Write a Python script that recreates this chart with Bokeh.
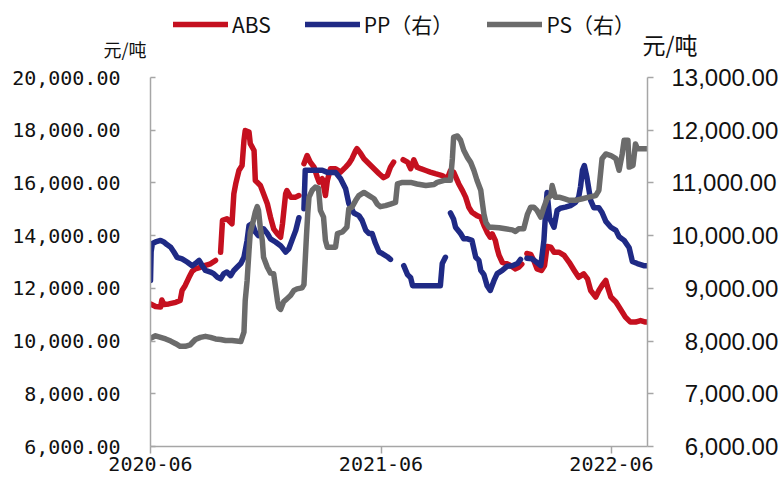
import numpy as np
import pandas as pd
from bokeh.plotting import figure
from bokeh.layouts import column
from bokeh.models import (Range1d, LinearAxis, FixedTicker, DatetimeTickFormatter,
                          NumeralTickFormatter, Legend, LegendItem)
from bokeh.embed import file_html
from bokeh.resources import INLINE

NAN = float("nan")

# Daily price series, sampled as day offsets from the start date (NaN = no quote)
START = "2020-06-01"
END_DAY = 787

ABS_DAYS = [
    0, 8, 16, 18, 21, 29, 40, 47, 50, 55,
    61, 66, 71, 79, 87, 95, 103, 107, 111, 114,
    121, 129, 132, 135, 140, 145, 148, 150, 156, 158,
    164, 166, 174, 179, 185, 190, 195, 201, 206, 209,
    214, 216, 222, 230, 235, 239, 243, 248, 253, 259,
    264, 267, 272, 277, 280, 285, 293, 301, 309, 314,
    319, 325, 327, 333, 338, 346, 354, 362, 369, 375,
    380, 385, 392, 400, 407, 412, 417, 422, 428, 436,
    443, 451, 462, 470, 475, 480, 488, 494, 499, 504,
    509, 517, 523, 528, 533, 538, 541, 546, 549, 552,
    557, 565, 570, 578, 583, 588, 592, 596, 602, 607,
    612, 619, 624, 628, 634, 639, 647, 655, 663, 671,
    678, 686, 692, 697, 705, 710, 715, 721, 723, 729,
    737, 744, 752, 760, 768, 776, 784, 787,
]
ABS_PRICE = [
    11410, 11310, 11290, 11560, 11390, 11410, 11470, 11540, 11920, 12110,
    12420, 12650, 12740, 12800, 12870, 12930, 13060, NAN, 13370, 14580,
    14640, 14450, 15590, 15970, 16470, 16660, 17610, 17990, 17930, 17490,
    17230, 16090, 15900, 15590, 15210, 14700, 14260, 14070, 13940, 14450,
    15590, 15710, 15460, 15460, 15520, NAN, 16730, 17040, 16790, 16600,
    16220, 16030, 16160, 15520, 16090, 16540, 16540, 16410, 16600, 16730,
    16920, 17230, 17300, 17110, 16920, 16730, 16540, 16350, 16200, 16280,
    16600, 16790, NAN, 16880, 16790, 16540, 16880, 16600, 16540, 16470,
    16410, 16350, 16280, 16160, 16470, 16410, 15970, 15710, 15460, 15080,
    14890, 14760, 14700, 14390, 14130, 13940, 14070, 13820, 13500, 13250,
    12990, 12930, 12870, 12740, 12800, 12920, NAN, 13320, 13290, 13060,
    12740, 12680, 12870, 13590, 13560, 13370, 13370, 13250, 12990, 12680,
    12420, 12550, 12360, 11920, 11670, 11920, 12110, 12300, 12110, 11670,
    11480, 11220, 10910, 10720, 10720, 10780, 10720, 10720,
]

PP_DAYS = [
    0, 1, 3, 8, 16, 21, 26, 32, 37, 42,
    50, 58, 66, 71, 77, 82, 87, 95, 100, 106,
    111, 116, 121, 127, 132, 137, 143, 148, 153, 156,
    161, 166, 171, 179, 185, 190, 198, 206, 214, 219,
    224, 230, 235, 239, 243, 245, 253, 264, 272, 280,
    293, 301, 309, 314, 322, 330, 335, 341, 346, 351,
    356, 362, 367, 375, 380, 390, 401, 407, 412, 415,
    428, 459, 462, 467, 471, 475, 480, 483, 491, 496,
    502, 509, 515, 520, 523, 528, 533, 538, 544, 549,
    557, 565, 573, 581, 586, 591, 596, 604, 612, 618,
    623, 626, 628, 632, 639, 644, 649, 657, 665, 673,
    678, 681, 684, 687, 691, 694, 697, 702, 710, 715,
    721, 729, 737, 742, 750, 758, 763, 771, 781, 787,
]
PP_PRICE = [
    9150, 9700, 9850, 9880, 9910, 9880, 9830, 9780, 9690, 9590,
    9560, 9500, 9430, 9470, 9530, 9430, 9340, 9310, 9280, 9210,
    9180, 9280, 9310, 9240, 9340, 9400, 9470, 9590, 9910, 10190,
    10230, 10070, 10000, 10130, 10040, 9940, 9880, 9810, 9690, 9750,
    9910, 10100, 10340, NAN, 10510, 11240, 11240, 11240, 11240, 11200,
    11200, 11080, 10890, 10610, 10430, 10380, 10290, 10100, 10040, 10040,
    9860, 9690, 9660, 9600, 9550, NAN, 9430, 9260, 9200, 9050,
    9050, 9050, 9470, 9590, NAN, 10430, 10310, 10160, 10040, 9940,
    9940, 9910, 9590, 9530, 9340, 9260, 9050, 8960, 9150, 9280,
    9340, 9420, 9430, 9470, 9550, NAN, 9570, 9560, 9490, 9430,
    9910, 10520, 10820, 10330, 10160, 10480, 10520, 10540, 10570, 10630,
    10730, 10930, 11240, 11330, 11110, 10890, 10670, 10530, 10530, 10440,
    10270, 10160, 10100, 9980, 9910, 9770, 9510, 9470, 9430, 9430,
]

PS_DAYS = [
    0, 8, 16, 24, 32, 40, 47, 55, 63, 71,
    79, 87, 95, 103, 111, 119, 129, 143, 148, 150,
    153, 156, 158, 161, 166, 169, 171, 174, 177, 179,
    185, 190, 195, 201, 203, 206, 211, 216, 222, 227,
    232, 240, 243, 247, 249, 251, 256, 261, 266, 269,
    274, 277, 280, 293, 296, 304, 311, 314, 319, 325,
    330, 338, 346, 354, 359, 364, 372, 380, 388, 391,
    399, 412, 422, 436, 449, 454, 465, 475, 478, 480,
    486, 491, 496, 502, 507, 512, 517, 523, 525, 528,
    531, 536, 541, 552, 562, 573, 578, 583, 591, 597,
    602, 607, 612, 618, 623, 628, 634, 636, 641, 647,
    655, 663, 673, 684, 694, 705, 710, 715, 721, 729,
    737, 742, 747, 750, 756, 758, 764, 768, 771, 776,
    787,
]
PS_PRICE = [
    8050, 8100, 8070, 8040, 8000, 7950, 7900, 7900, 7930, 8030,
    8070, 8090, 8070, 8040, 8030, 8010, 8010, 7990, 8170, 8770,
    9150, 9720, 10060, 10190, 10450, 10550, 10480, 10140, 9910, 9590,
    9400, 9290, 9280, 8770, 8640, 8600, 8750, 8800, 8870, 8960,
    8990, 9010, 9070, 10000, 10420, 10730, 10860, 10920, 10900, 10480,
    10350, 9910, 9780, 9780, 10040, 10070, 10160, 10510, 10540, 10670,
    10760, 10820, 10760, 10700, 10600, 10550, 10570, 10600, 10630, 10980,
    11010, 11010, 10980, 10950, 10970, 11010, 11050, 11050, 11460, 11870,
    11890, 11810, 11620, 11480, 11390, 11240, 11050, 10860, 10670, 10410,
    10250, 10160, 10160, 10150, 10130, 10110, 10080, 10130, 10130, 10410,
    10540, 10540, 10480, 10350, 10540, 10700, 10760, 10950, 10730, 10730,
    10700, 10670, 10670, 10700, 10730, 10760, 10860, 11460, 11550, 11520,
    11460, 11240, 11550, 11810, 11810, 11300, 11330, 11740, 11650, 11650,
    11650,
]

SERIES_NAMES = ["ABS", "PP（右）", "PS（右）"]
SERIES_COLORS = ["#C5101F", "#1F2A85", "#6B6B6B"]
UNIT = "元/吨"

LEFT_TICKS = [6000, 8000, 10000, 12000, 14000, 16000, 18000, 20000]
RIGHT_TICKS = [6000, 7000, 8000, 9000, 10000, 11000, 12000, 13000]
X_TICKS = ["2020-06-01", "2021-06-01", "2022-06-01"]

assert len(ABS_DAYS) == len(ABS_PRICE)
assert len(PP_DAYS) == len(PP_PRICE)
assert len(PS_DAYS) == len(PS_PRICE)

start = pd.Timestamp(START)


def to_dates(days):
    return (start + pd.to_timedelta(np.asarray(days), unit="D")).to_numpy()


def to_ms(ts):
    return pd.Timestamp(ts).value / 1e6


HEADER_H = 62          # strip holding the legend and the unit captions
BORDER_L, BORDER_R = 150, 133
FRAME_W, FRAME_H = 497, 369
AXIS_GREY = "#A6A6A6"
TEXT = "#111111"
MONO = "DejaVu Sans Mono"
CJK = "Noto Sans CJK SC"
line_kw = dict(line_width=5.5, line_join="round", line_cap="round")

# ---- main chart -------------------------------------------------------------
p = figure(
    frame_width=FRAME_W, frame_height=FRAME_H,
    x_axis_type="datetime",
    x_range=Range1d(start, start + pd.Timedelta(days=END_DAY)),
    y_range=Range1d(6000, 20000),
    output_backend="svg", toolbar_location=None,
    min_border_left=BORDER_L, min_border_right=BORDER_R,
    min_border_top=77 - HEADER_H, min_border_bottom=33,
    outline_line_color=None, background_fill_color="white",
    border_fill_color="white",
)
p.extra_y_ranges = {"right": Range1d(6000, 13000)}
p.xgrid.visible = False
p.ygrid.visible = False


def style_axis(ax, tick_in, tick_out):
    ax.major_tick_in = tick_in
    ax.major_tick_out = tick_out
    ax.minor_tick_line_color = None
    ax.axis_line_color = AXIS_GREY
    ax.axis_line_width = 1.5
    ax.major_tick_line_color = AXIS_GREY
    ax.major_tick_line_width = 1.5
    ax.major_label_text_color = TEXT


# left axis: ABS
ly = p.yaxis[0]
ly.ticker = FixedTicker(ticks=LEFT_TICKS)
ly.formatter = NumeralTickFormatter(format="0,0.00")
style_axis(ly, 5, 0)
ly.major_label_text_font = MONO
ly.major_label_text_font_size = "20px"
ly.major_label_standoff = 30

# right axis: PP and PS, labels padded with figure spaces so they line up on the right
longest = max(len(f"{t:,.2f}") for t in RIGHT_TICKS)
right_labels = {t: "\u2007" * (longest - len(f"{t:,.2f}")) + f"{t:,.2f}" for t in RIGHT_TICKS}
ry = LinearAxis(y_range_name="right", ticker=FixedTicker(ticks=RIGHT_TICKS),
                major_label_overrides=right_labels)
style_axis(ry, 0, 6)
ry.major_label_text_font = "Liberation Sans"
ry.major_label_text_font_size = "24px"
ry.major_label_standoff = 18
p.add_layout(ry, "right")

# bottom axis
bx = p.xaxis[0]
bx.ticker = FixedTicker(ticks=[to_ms(t) for t in X_TICKS])
fmt = "%Y-%m"
bx.formatter = DatetimeTickFormatter(
    milliseconds=fmt, seconds=fmt, minsec=fmt, minutes=fmt, hourmin=fmt,
    hours=fmt, days=fmt, months=fmt, years=fmt)
style_axis(bx, 0, 7)
bx.major_label_text_font = MONO
bx.major_label_text_font_size = "20px"
bx.major_label_standoff = 3

p.line(to_dates(ABS_DAYS), np.array(ABS_PRICE, dtype=float),
       line_color=SERIES_COLORS[0], **line_kw)
p.line(to_dates(PP_DAYS), np.array(PP_PRICE, dtype=float),
       line_color=SERIES_COLORS[1], y_range_name="right", **line_kw)
p.line(to_dates(PS_DAYS), np.array(PS_PRICE, dtype=float),
       line_color=SERIES_COLORS[2], y_range_name="right", **line_kw)

# ---- header strip: legend + unit captions -----------------------------------
# x in page pixels over the aligned frame, y in pixels from the top of the strip
head = figure(
    width=BORDER_L + FRAME_W + BORDER_R, height=HEADER_H,
    x_range=Range1d(BORDER_L, BORDER_L + FRAME_W), y_range=Range1d(HEADER_H, 0),
    x_axis_location=None,
    output_backend="svg", toolbar_location=None,
    min_border_left=BORDER_L, min_border_right=BORDER_R,
    min_border_top=0, min_border_bottom=0, outline_line_color=None,
    background_fill_color="white", border_fill_color="white",
)
head.xgrid.visible = False
head.ygrid.visible = False


def caption_axis(ax, y, size, standoff):
    ax.ticker = FixedTicker(ticks=[y])
    ax.major_label_overrides = {y: UNIT}
    ax.axis_line_color = None
    ax.major_tick_line_color = None
    ax.minor_tick_line_color = None
    ax.major_tick_in = 0
    ax.major_tick_out = 0
    ax.major_label_standoff = standoff
    ax.major_label_text_font = CJK
    ax.major_label_text_font_size = size
    ax.major_label_text_color = TEXT


caption_axis(head.yaxis[0], 48, "18px", 4)
head_right = LinearAxis()
caption_axis(head_right, 43, "23px", -4)
head.add_layout(head_right, "right")

keys = [head.line(x=[NAN], y=[NAN], line_color=c, **line_kw) for c in SERIES_COLORS]
legend = Legend(
    items=[LegendItem(label=n, renderers=[r]) for n, r in zip(SERIES_NAMES, keys)],
    orientation="horizontal", location=(173 - BORDER_L, HEADER_H - 39),
    glyph_width=55, glyph_height=20, label_standoff=4, spacing=34,
    padding=0, margin=0, border_line_alpha=0, background_fill_alpha=0,
    label_text_font=CJK, label_text_font_size="21px", label_text_color=TEXT,
)
head.add_layout(legend)

layout = column(head, p, spacing=0)
open("out.html", "w").write(file_html(layout, INLINE))
